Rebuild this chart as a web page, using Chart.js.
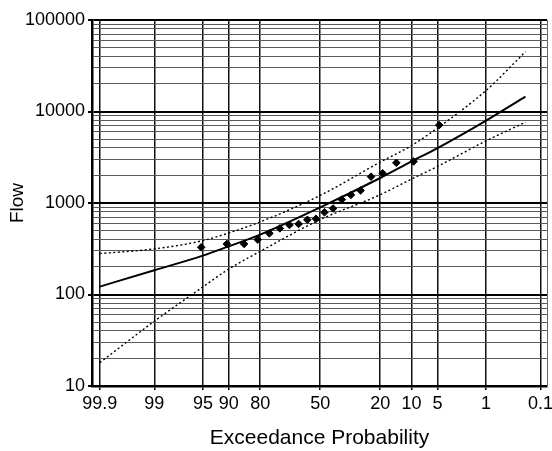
<!DOCTYPE html>
<html>
<head>
<meta charset="utf-8">
<script src="https://cdn.jsdelivr.net/npm/chart.js@4.4.1/dist/chart.umd.min.js"></script>
<style>
  body { margin: 0; background: #fff; }
  #wrap { width: 552px; height: 451px; position: relative; }
</style>
</head>
<body>
<div id="wrap"><canvas id="freqChart"></canvas></div>
<script>
// exceedance probability (%) tick labels on the bottom axis
const probTicks = [99.9, 99, 95, 90, 80, 50, 20, 10, 5, 1, 0.1];
// decade labels on the flow axis
const flowDecades = [10, 100, 1000, 10000, 100000];

// observed annual flows and their plotting positions
const obsExceedance = [95.24, 90.48, 85.71, 80.95, 76.19, 71.43, 66.67, 61.90, 57.14, 52.38,
                       47.62, 42.86, 38.10, 33.33, 28.57, 23.81, 19.05, 14.29, 9.52, 4.76];
const obsFlow = [328, 357, 357, 398, 466, 528, 575, 590, 655, 672,
                 792, 872, 1090, 1225, 1371, 1940, 2110, 2750, 2845, 7100];

// fitted frequency curve and confidence limits
const curveExceedance = [99.9, 99, 95, 90, 80, 50, 20, 10, 5, 1, 0.2];
const fittedFlow = [122, 184, 266, 336, 451, 895, 1876, 2845, 3985, 7960, 14550];
const upperFlow = [280, 315, 388, 471, 621, 1211, 2800, 4250, 6600, 17000, 45000];
const lowerFlow = [18, 51, 121, 190, 296, 658, 1232, 1830, 2510, 4780, 7640];

const Z_MIN = -3.2, Z_MAX = 3.18;

// inverse standard normal (Acklam)
function normInv(p) {
  const a = [-3.969683028665376e+01, 2.209460984245205e+02, -2.759285104469687e+02, 1.383577518672690e+02, -3.066479806614716e+01, 2.506628277459239e+00];
  const b = [-5.447609879822406e+01, 1.615858368580409e+02, -1.556989798598866e+02, 6.680131188771972e+01, -1.328068155288572e+01];
  const c = [-7.784894002430293e-03, -3.223964580411365e-01, -2.400758277161838e+00, -2.549732539343734e+00, 4.374664141464968e+00, 2.938163982698783e+00];
  const d = [7.784695709041462e-03, 3.224671290700398e-01, 2.445134137142996e+00, 3.754408661907416e+00];
  const pl = 0.02425;
  let q, r;
  if (p < pl) {
    q = Math.sqrt(-2 * Math.log(p));
    return (((((c[0]*q+c[1])*q+c[2])*q+c[3])*q+c[4])*q+c[5]) / ((((d[0]*q+d[1])*q+d[2])*q+d[3])*q+1);
  }
  if (p > 1 - pl) {
    q = Math.sqrt(-2 * Math.log(1 - p));
    return -(((((c[0]*q+c[1])*q+c[2])*q+c[3])*q+c[4])*q+c[5]) / ((((d[0]*q+d[1])*q+d[2])*q+d[3])*q+1);
  }
  q = p - 0.5; r = q * q;
  return (((((a[0]*r+a[1])*r+a[2])*r+a[3])*r+a[4])*r+a[5])*q / (((((b[0]*r+b[1])*r+b[2])*r+b[3])*r+b[4])*r+1);
}

function normCdf(z) {
  const t = 1 / (1 + 0.2316419 * Math.abs(z));
  const poly = t * (0.319381530 + t * (-0.356563782 + t * (1.781477937 + t * (-1.821255978 + t * 1.330274429))));
  const tail = Math.exp(-z * z / 2) / Math.sqrt(2 * Math.PI) * poly;
  return z >= 0 ? 1 - tail : tail;
}

// probability paper axis: value is exceedance % , position is normal quantile
class ProbabilityScale extends Chart.Scale {
  determineDataLimits() {
    this.min = Z_MIN;
    this.max = Z_MAX;
  }
  buildTicks() {
    return probTicks.map(v => ({ value: v }));
  }
  getLabelForValue(v) {
    return String(v);
  }
  getPixelForValue(v) {
    const z = normInv(1 - v / 100);
    return this.getPixelForDecimal((z - this.min) / (this.max - this.min));
  }
  getPixelForTick(i) {
    return this.getPixelForValue(this.ticks[i].value);
  }
  getValueForPixel(px) {
    const z = this.min + this.getDecimalForPixel(px) * (this.max - this.min);
    return 100 * (1 - normCdf(z));
  }
}
ProbabilityScale.id = 'probability';
ProbabilityScale.defaults = {};
Chart.register(ProbabilityScale);

function pairs(xs, ys) {
  return xs.map((x, i) => ({ x: x, y: ys[i] }));
}

const isDecade = v => flowDecades.includes(v);

const rightBorder = {
  id: 'rightBorder',
  afterDraw(chart) {
    const { ctx, chartArea } = chart;
    ctx.save();
    ctx.strokeStyle = '#666';
    ctx.lineWidth = 1;
    ctx.beginPath();
    ctx.moveTo(chartArea.right + 0.5, chartArea.top);
    ctx.lineTo(chartArea.right + 0.5, chartArea.bottom);
    ctx.stroke();
    ctx.restore();
  }
};

const FONT = 'Arial, "Liberation Sans", sans-serif';

const ctx = document.getElementById('freqChart').getContext('2d');
new Chart(ctx, {
  type: 'line',
  data: {
    datasets: [
      {
        label: 'Observed',
        data: pairs(obsExceedance, obsFlow),
        showLine: false,
        pointStyle: 'rectRot',
        pointRadius: 3.8,
        pointBackgroundColor: '#000',
        pointBorderColor: '#000',
        pointBorderWidth: 1
      },
      {
        label: 'Fitted',
        data: pairs(curveExceedance, fittedFlow),
        borderColor: '#000',
        borderWidth: 2,
        pointRadius: 0,
        cubicInterpolationMode: 'monotone'
      },
      {
        label: 'Upper limit',
        data: pairs(curveExceedance, upperFlow),
        borderColor: '#000',
        borderWidth: 1.4,
        borderDash: [2, 2.5],
        pointRadius: 0,
        cubicInterpolationMode: 'monotone'
      },
      {
        label: 'Lower limit',
        data: pairs(curveExceedance, lowerFlow),
        borderColor: '#000',
        borderWidth: 1.4,
        borderDash: [2, 2.5],
        pointRadius: 0,
        cubicInterpolationMode: 'monotone'
      }
    ]
  },
  options: {
    responsive: true,
    maintainAspectRatio: false,
    animation: false,
    layout: { padding: { top: 20, right: 4, left: 0, bottom: 0 } },
    plugins: {
      legend: { display: false },
      tooltip: { enabled: false }
    },
    scales: {
      x: {
        type: 'probability',
        position: 'bottom',
        afterFit: (scale) => {
          scale.height = 65;
          scale.paddingLeft = 0;
          scale.paddingRight = 0;
        },
        border: { display: true, color: '#000', width: 2.5 },
        grid: {
          color: '#111',
          lineWidth: 1.5,
          tickColor: '#000',
          tickLength: 4
        },
        ticks: {
          autoSkip: false,
          maxRotation: 0,
          padding: 3,
          color: '#000',
          font: { family: FONT, size: 18 },
          callback: (v) => String(v)
        },
        title: {
          display: true,
          text: 'Exceedance Probability',
          color: '#000',
          font: { family: FONT, size: 21 },
          padding: { top: 0, bottom: 0 }
        }
      },
      y: {
        type: 'logarithmic',
        min: 10,
        max: 100000,
        afterFit: (scale) => { scale.width = 92; },
        afterBuildTicks: (scale) => {
          const ticks = [];
          flowDecades.forEach((d, i) => {
            ticks.push({ value: d, major: true });
            if (i < flowDecades.length - 1) {
              for (let m = 2; m <= 9; m++) ticks.push({ value: d * m });
            }
          });
          scale.ticks = ticks;
        },
        border: { display: true, color: '#000', width: 2.5 },
        grid: {
          color: (c) => isDecade(c.tick.value) ? '#000' : '#5a5a5a',
          lineWidth: (c) => isDecade(c.tick.value) ? 2 : 1,
          tickColor: (c) => isDecade(c.tick.value) ? '#000' : 'rgba(0,0,0,0)',
          tickLength: 4
        },
        ticks: {
          autoSkip: false,
          padding: 3,
          color: '#000',
          font: { family: FONT, size: 18 },
          callback: (v) => isDecade(v) ? String(v) : ''
        },
        title: {
          display: true,
          text: 'Flow',
          color: '#000',
          font: { family: FONT, size: 19 },
          padding: { top: 6, bottom: 0 }
        }
      }
    }
  },
  plugins: [rightBorder]
});
</script>
</body>
</html>
